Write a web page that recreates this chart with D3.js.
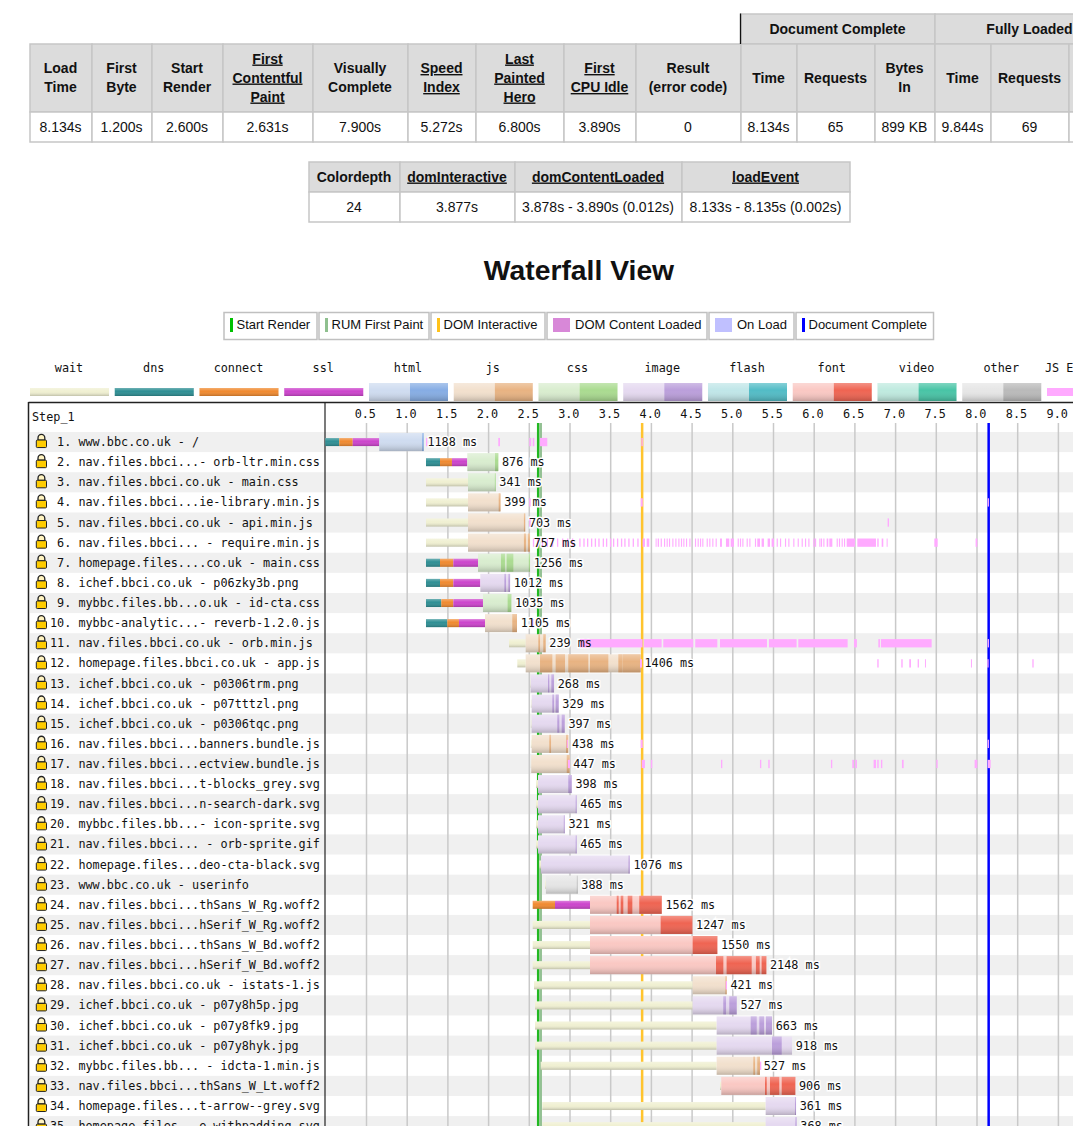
<!DOCTYPE html>
<html>
<head>
<meta charset="utf-8">
<script src="https://cdn.jsdelivr.net/npm/d3@7"></script>
<style>
body { margin: 0; background: #fff; overflow: hidden; }
svg { display: block; }
text { font-family: "Liberation Sans", Arial, sans-serif; fill: #111; }
.mono, .mono text { font-family: "DejaVu Sans Mono", monospace; font-size: 11.8px; white-space: pre; }
</style>
</head>
<body>
<script>
// ---- summary tables ----
var mainHeaders = [["Load","Time"],["First","Byte"],["Start","Render"],["First","Contentful","Paint"],["Visually","Complete"],["Speed","Index"],["Last","Painted","Hero"],["First","CPU Idle"],["Result","(error code)"],["Time"],["Requests"],["Bytes","In"],["Time"],["Requests"],[]];
var mainLinked = [3,5,6,7];
var mainValues = ["8.134s","1.200s","2.600s","2.631s","7.900s","5.272s","6.800s","3.890s","0","8.134s","65","899 KB","9.844s","69",""];
var mainEdges = [30,92,152,223,313,408,476,564,636,741,797,875,935,991,1069,1125];
var groupHeaders = ["Document Complete","Fully Loaded"];
var groupEdges = [741,935,1125];
var domHeaders = ["Colordepth","domInteractive","domContentLoaded","loadEvent"];
var domLinked = [1,2,3];
var domValues = ["24","3.877s","3.878s - 3.890s (0.012s)","8.133s - 8.135s (0.002s)"];
var domEdges = [309,400,515,682,850];

// ---- waterfall: one entry per request, times in seconds ----
var urls = ["www.bbc.co.uk - /","nav.files.bbci...- orb-ltr.min.css","nav.files.bbci.co.uk - main.css","nav.files.bbci...ie-library.min.js","nav.files.bbci.co.uk - api.min.js","nav.files.bbci... - require.min.js","homepage.files....co.uk - main.css","ichef.bbci.co.uk - p06zky3b.png","mybbc.files.bb...o.uk - id-cta.css","mybbc-analytic...- reverb-1.2.0.js","nav.files.bbci.co.uk - orb.min.js","homepage.files.bbci.co.uk - app.js","ichef.bbci.co.uk - p0306trm.png","ichef.bbci.co.uk - p07tttzl.png","ichef.bbci.co.uk - p0306tqc.png","nav.files.bbci...banners.bundle.js","nav.files.bbci...ectview.bundle.js","nav.files.bbci...t-blocks_grey.svg","nav.files.bbci...n-search-dark.svg","mybbc.files.bb...- icon-sprite.svg","nav.files.bbci... - orb-sprite.gif","homepage.files...deo-cta-black.svg","www.bbc.co.uk - userinfo","nav.files.bbci...thSans_W_Rg.woff2","nav.files.bbci...hSerif_W_Rg.woff2","nav.files.bbci...thSans_W_Bd.woff2","nav.files.bbci...hSerif_W_Bd.woff2","nav.files.bbci.co.uk - istats-1.js","ichef.bbci.co.uk - p07y8h5p.jpg","ichef.bbci.co.uk - p07y8fk9.jpg","ichef.bbci.co.uk - p07y8hyk.jpg","mybbc.files.bb... - idcta-1.min.js","nav.files.bbci...thSans_W_Lt.woff2","homepage.files...t-arrow--grey.svg","homepage.files...e-withpadding.svg"];
var types = ["html","css","css","js","js","js","css","image","css","js","js","js","image","image","image","js","js","image","image","image","image","image","other","font","font","font","font","js","image","image","image","js","font","image","image"];
var durations = [1188,876,341,399,703,757,1256,1012,1035,1105,239,1406,268,329,397,438,447,398,465,321,465,1076,388,1562,1247,1550,2148,421,527,663,918,527,906,361,368];
var phaseStart = [0,1.237,1.237,1.237,1.237,1.237,1.237,1.237,1.237,1.237,2.257,2.359,2.515,2.525,2.525,2.525,2.525,2.588,2.588,2.588,2.588,2.63,2.7,2.548,2.548,2.548,2.548,2.564,2.576,2.576,2.576,2.646,4.849,2.666,2.666];
var reqStart = [0.663,1.745,1.753,1.753,1.753,1.753,1.876,1.905,1.937,1.962,2.462,2.462,2.523,2.535,2.535,2.535,2.53,2.613,2.613,2.613,2.613,2.65,2.71,3.252,3.252,3.252,3.252,4.513,4.513,4.808,4.808,4.808,4.865,5.41,5.41];
var reqEnd = [1.209,2.125,2.093,2.152,2.456,2.515,2.515,2.27,2.285,2.355,2.707,3.875,2.81,2.867,2.941,2.985,3.002,3.027,3.088,2.941,3.088,3.74,3.1,4.133,4.509,4.816,5.418,4.931,5.054,5.488,5.734,5.34,5.774,5.783,5.79];
// connection phases: row -> [dns end, connect end, ssl end]; dns end equal to the start means no dns
var connectPhases = {0:[0.172,0.337,0.663],1:[1.409,1.556,1.745],6:[1.409,1.573,1.876],7:[1.409,1.573,1.905],8:[1.425,1.573,1.937],9:[1.499,1.642,1.962],23:[2.548,2.822,3.252]};
var downloadChunks = {
  0:[[1.19,1.209]],1:[[2.085,2.125]],2:[[2.083,2.093]],3:[[2.13,2.152]],4:[[2.44,2.456]],5:[[2.44,2.465],[2.49,2.515]],
  6:[[2.158,2.207],[2.228,2.31],[2.5,2.515]],7:[[2.2,2.22],[2.249,2.27]],8:[[2.24,2.285]],9:[[2.297,2.355]],
  10:[[2.617,2.638],[2.678,2.707]],11:[[2.638,2.789],[2.83,2.945],[2.985,3.231],[3.252,3.477],[3.6,3.654],[3.657,3.875]],
  12:[[2.736,2.752],[2.777,2.81]],13:[[2.789,2.81],[2.83,2.867]],14:[[2.85,2.875],[2.904,2.941]],15:[[2.752,2.773],[2.957,2.985]],16:[[2.966,3.002]],
  17:[[2.985,3.027]],18:[[3.076,3.088]],19:[[2.93,2.941]],20:[[3.076,3.088]],21:[[3.725,3.74]],22:[[3.09,3.1]],
  23:[[3.58,3.604],[3.629,3.661],[3.715,3.772],[3.857,4.133]],24:[[4.12,4.509]],25:[[4.513,4.816]],26:[[4.8,4.89],[4.93,5.238],[5.29,5.336],[5.36,5.418]],
  27:[[4.915,4.931]],28:[[4.889,4.923],[4.963,5.054]],29:[[5.226,5.3],[5.332,5.39],[5.414,5.488]],30:[[5.488,5.607]],31:[[5.258,5.279],[5.307,5.34]],
  32:[[5.402,5.423],[5.463,5.577],[5.607,5.774]],33:[[5.77,5.783]],34:[[5.775,5.79]]
};
var jsExecution = {
  0:[[1.237,1.253],[2.125,2.146],[2.506,2.53],[2.548,2.568],[2.638,2.727],[3.883,3.9]],
  3:[[2.506,2.523],[3.875,3.9],[8.137,8.153]],
  4:[[2.506,2.523],[6.908,6.925]],
  5:[[2.55,2.566],[2.6,2.616],[2.66,2.676],[2.72,2.736],[2.785,2.8],[2.846,2.862],[2.908,2.924],[2.97,2.986],[3.03,3.046],[3.12,3.136],[3.17,3.186],[3.215,3.231],[3.264,3.28],[3.31,3.326],[3.354,3.37],[3.408,3.424],[3.448,3.464],[3.497,3.513],[3.534,3.55],[3.583,3.599],[3.632,3.648],[3.673,3.689],[3.722,3.738],[3.776,3.792],[3.833,3.849],[3.898,3.927],[3.948,3.98],[4.058,4.07],[4.083,4.1],[4.12,4.135],[4.161,4.175],[4.193,4.207],[4.222,4.236],[4.263,4.277],[4.3,4.314],[4.337,4.351],[4.369,4.383],[4.398,4.412],[4.431,4.445],[4.472,4.486],[4.541,4.555],[4.574,4.588],[4.603,4.617],[4.631,4.645],[4.685,4.699],[4.717,4.731],[4.754,4.768],[4.795,4.809],[4.849,4.873],[4.922,4.963],[4.98,5.02],[5.066,5.08],[5.094,5.108],[5.123,5.137],[5.176,5.19],[5.209,5.223],[5.278,5.292],[5.307,5.34],[5.36,5.389],[5.434,5.463],[5.483,5.512],[5.545,5.559],[5.586,5.6],[5.647,5.661],[5.688,5.702],[5.749,5.763],[5.803,5.817],[5.852,5.866],[5.893,5.907],[5.934,5.948],[5.995,6.009],[6.016,6.03],[6.069,6.083],[6.089,6.103],[6.118,6.132],[6.159,6.179],[6.192,6.229],[6.282,6.296],[6.31,6.324],[6.343,6.357],[6.372,6.386],[6.405,6.507],[6.536,6.765],[6.781,6.798],[6.835,6.855],[6.896,6.908],[7.482,7.523],[7.989,8.01]],
  9:[[2.54,2.556]],
  10:[[3.129,3.898],[3.915,4.132],[4.152,4.521],[4.545,4.816],[4.849,5.426],[5.45,5.79],[5.811,6.417],[6.495,6.531],[6.794,6.814],[6.826,7.449],[8.137,8.153]],
  11:[[3.866,3.89],[6.781,6.798],[7.076,7.093],[7.174,7.195],[7.277,7.293],[7.367,7.379],[7.932,7.944],[8.133,8.149],[8.686,8.702]],
  15:[[2.966,2.98],[3.874,3.9],[8.137,8.153]],
  16:[[2.98,3.006],[3.886,3.927],[4.0,4.017],[4.861,4.877],[5.34,5.356],[5.442,5.459],[6.212,6.228],[6.474,6.495],[6.511,6.531],[6.736,6.765],[6.781,6.798],[6.826,6.843],[7.084,7.105],[7.506,7.523],[7.977,8.01],[8.137,8.174]],
  27:[[4.919,4.935]],
  31:[[5.34,5.356]]
};
var markers = [{t:2.6,c:"#22b822"},{t:2.631,c:"#93c193"},{t:3.877,c:"#ffc42e"},{t:8.134,c:"#0000ff"}];
var axisTicks = [0.5,1,1.5,2,2.5,3,3.5,4,4.5,5,5.5,6,6.5,7,7.5,8,8.5,9,9.5];

// ---- colour keys ----
var phaseKeys = ["wait","dns","connect","ssl"];
var phaseColors = {wait:"#f0f0d2",dns:"#2f8f94",connect:"#f08a30",ssl:"#cc44cc"};
var typeKeys = ["html","js","css","image","flash","font","video","other"];
var lightColors = {html:"#cfdcf0",js:"#f2e0cd",css:"#d9edcf",image:"#e5d9f0",flash:"#c0e6e8",font:"#fac8c3",video:"#bfeadf",other:"#e6e6e6"};
var darkColors = {html:"#86ade4",js:"#e8b382",css:"#aadb90",image:"#bb9fdb",flash:"#52bcc6",font:"#ef6452",video:"#48c4a6",other:"#bababa"};
var jsColor = "#ffaaff";
var legendItems = [
  {label:"Start Render",x0:224,x1:317,kind:"bar",c:"#00c000"},
  {label:"RUM First Paint",x0:319,x1:429,kind:"bar",c:"#8fc08f"},
  {label:"DOM Interactive",x0:431,x1:545,kind:"bar",c:"#ffc21a"},
  {label:"DOM Content Loaded",x0:547,x1:707,kind:"box",c:"#d888d8"},
  {label:"On Load",x0:709,x1:794,kind:"box",c:"#c0c0ff"},
  {label:"Document Complete",x0:796,x1:933.5,kind:"bar",c:"#0000ff"}
];

var svg = d3.select("body").append("svg").attr("width",1073).attr("height",1126);
var defs = svg.append("defs");
var shade = defs.append("linearGradient").attr("id","shade").attr("x1",0).attr("y1",0).attr("x2",0).attr("y2",1);
shade.append("stop").attr("offset",0).attr("stop-color","#fff").attr("stop-opacity",0.3);
shade.append("stop").attr("offset",0.4).attr("stop-color","#fff").attr("stop-opacity",0);
shade.append("stop").attr("offset",1).attr("stop-color","#000").attr("stop-opacity",0.2);

function drawCell(x0,x1,y0,y1,fill){
  svg.append("rect").attr("x",x0).attr("y",y0).attr("width",x1-x0).attr("height",y1-y0)
    .attr("fill",fill).attr("stroke","#c6c6c6").attr("stroke-width",1.5);
}
function drawLines(lines,cx,cy,bold,linked){
  var lh = 19;
  lines.forEach(function(s,i){
    svg.append("text").attr("x",cx-0.5).attr("y",cy+(i-(lines.length-1)/2)*lh+4.5)
      .attr("text-anchor","middle").attr("font-size",14).attr("font-weight",bold?"bold":"normal")
      .attr("text-decoration",linked?"underline":null).text(s);
  });
}

// top table
groupHeaders.forEach(function(h,i){
  drawCell(groupEdges[i],groupEdges[i+1],14,44,"#dcdcdc");
  drawLines([h],(groupEdges[i]+groupEdges[i+1])/2,29,true,false);
});
mainHeaders.forEach(function(h,i){
  var x0 = mainEdges[i], x1 = mainEdges[i+1];
  drawCell(x0,x1,44,112,"#dcdcdc");
  drawLines(h,(x0+x1)/2,78,true,mainLinked.indexOf(i)>=0);
  drawCell(x0,x1,112,142,"#fff");
  drawLines([mainValues[i]],(x0+x1)/2,127,false,false);
});
svg.append("line").attr("x1",740.5).attr("x2",740.5).attr("y1",13.5).attr("y2",44).attr("stroke","#111").attr("stroke-width",1.3);
// second table
domHeaders.forEach(function(h,i){
  var x0 = domEdges[i], x1 = domEdges[i+1];
  drawCell(x0,x1,162,192,"#dcdcdc");
  drawLines([h],(x0+x1)/2,177,true,domLinked.indexOf(i)>=0);
  drawCell(x0,x1,192,222,"#fff");
  drawLines([domValues[i]],(x0+x1)/2,207,false,false);
});

svg.append("text").attr("x",579).attr("y",280).attr("text-anchor","middle")
  .attr("font-size",28.3).attr("font-weight","bold").text("Waterfall View");

// marker legend
legendItems.forEach(function(d){
  svg.append("rect").attr("x",d.x0).attr("y",312.5).attr("width",d.x1-d.x0).attr("height",27)
    .attr("fill","#fff").attr("stroke","#c0c0c0").attr("stroke-width",1.5);
  var sw = d.kind=="bar" ? 3 : 17;
  svg.append("rect").attr("x",d.x0+6).attr("y",318).attr("width",sw).attr("height",14).attr("fill",d.c);
  svg.append("text").attr("x",d.x0+6+sw+(d.kind=="bar"?3.5:5)).attr("y",328.7).attr("font-size",13).text(d.label);
});

// request type legend
var legendX = d3.scaleLinear().domain([0,1]).range([30,114.75]);
var legend = svg.append("g").attr("class","mono");
phaseKeys.concat(typeKeys).concat(["JS Execution"]).forEach(function(k,i){
  var x0 = legendX(i);
  legend.append("text").attr("x",k=="JS Execution"?1045:x0+39).attr("y",372)
    .attr("text-anchor",k=="JS Execution"?"start":"middle").text(k);
  if (phaseColors[k]) {
    legend.append("rect").attr("x",x0).attr("y",388).attr("width",79).attr("height",8).attr("fill",phaseColors[k]);
    legend.append("rect").attr("x",x0).attr("y",388).attr("width",79).attr("height",8).attr("fill","url(#shade)");
  } else if (k=="JS Execution") {
    legend.append("rect").attr("x",1047).attr("y",388).attr("width",40).attr("height",8).attr("fill",jsColor);
  } else {
    legend.append("rect").attr("x",x0).attr("y",383).attr("width",41).attr("height",18).attr("fill",lightColors[k]);
    legend.append("rect").attr("x",x0+41).attr("y",383).attr("width",38).attr("height",18).attr("fill",darkColors[k]);
    legend.append("rect").attr("x",x0).attr("y",383).attr("width",79).attr("height",18).attr("fill","url(#shade)");
  }
});

// waterfall scales
var x = d3.scaleLinear().domain([0,9]).range([325.3,1057.9]);
var y = d3.scaleBand().domain(d3.range(urls.length)).range([432,432+urls.length*20.12]);
var rows = d3.range(urls.length);

var chart = svg.append("g").attr("class","mono");
chart.selectAll("rect.band").data(rows.filter(function(i){return i%2==0;})).join("rect").attr("class","band")
  .attr("x",30).attr("width",1043).attr("y",function(i){return y(i);}).attr("height",y.bandwidth()).attr("fill","#f0f0f0");

// grid and time labels
var axis = d3.axisTop(x).tickValues(axisTicks).tickFormat(d3.format(".1f")).tickSizeInner(-710).tickSizeOuter(0).tickPadding(5.5);
var axisG = chart.append("g").attr("transform","translate(0,423)").call(axis);
axisG.select(".domain").remove();
axisG.selectAll("line").attr("stroke","#c9c9c9").attr("stroke-width",1.5);
axisG.selectAll("text").attr("fill","#111").attr("dx",-1.2);
axisG.attr("font-family",null).attr("font-size",null);

// labels column
chart.append("rect").attr("x",30).attr("y",403).attr("width",295).attr("height",29).attr("fill","#fff");
chart.append("text").attr("x",32).attr("y",421).text("Step_1");
var labelRows = chart.selectAll("g.label").data(rows).join("g").attr("class","label")
  .attr("transform",function(i){return "translate(0,"+(y(i)+y.bandwidth()/2)+")";});
labelRows.append("path").attr("d","M38,-2 v-2 a3.4,3.6 0 0 1 6.8,0 v2 z").attr("fill","#fff3c0").attr("stroke","#222").attr("stroke-width",1.3);
labelRows.append("rect").attr("x",36.3).attr("y",-2).attr("width",10.2).attr("height",7.5).attr("rx",1)
  .attr("fill","#ffcc00").attr("stroke","#222").attr("stroke-width",1);
labelRows.append("text").attr("x",50).attr("y",4)
  .text(function(i){return String(i+1).padStart(2," ")+". "+urls[i];});

// frame
chart.append("line").attr("x1",28.5).attr("x2",1073).attr("y1",402.5).attr("y2",402.5).attr("stroke","#222").attr("stroke-width",1.5);
chart.append("line").attr("x1",28.5).attr("x2",28.5).attr("y1",402).attr("y2",1126).attr("stroke","#222").attr("stroke-width",1.5);
chart.append("line").attr("x1",325).attr("x2",325).attr("y1",402).attr("y2",1126).attr("stroke","#222").attr("stroke-width",1.2);

// page event markers
chart.selectAll("rect.marker").data(markers).join("rect").attr("class","marker")
  .attr("x",function(d){return x(d.t);}).attr("y",423).attr("width",2.5).attr("height",710).attr("fill",function(d){return d.c;});

// request bars
function bar(g,t0,t1,h,fill,row){
  var cy = y(row)+y.bandwidth()/2;
  g.append("rect").attr("x",x(t0)).attr("width",Math.max(x(t1)-x(t0),0)).attr("y",cy-h/2).attr("height",h).attr("fill",fill);
}
var bars = chart.append("g");
rows.forEach(function(i){
  var p = connectPhases[i];
  if (p) {
    if (p[0]>phaseStart[i]) bar(bars,phaseStart[i],p[0],8,phaseColors.dns,i);
    bar(bars,p[0],p[1],8,phaseColors.connect,i);
    bar(bars,p[1],p[2],8,phaseColors.ssl,i);
  } else {
    bar(bars,phaseStart[i],reqStart[i],8,phaseColors.wait,i);
  }
  bar(bars,phaseStart[i],reqStart[i],8,"url(#shade)",i);
  var t = types[i];
  bar(bars,reqStart[i],reqEnd[i],18,lightColors[t],i);
  (downloadChunks[i]||[]).forEach(function(c){ bar(bars,c[0],c[1],18,darkColors[t],i); });
  bar(bars,reqStart[i],reqEnd[i],18,"url(#shade)",i);
});

// duration labels: halo under the js ticks, glyphs above them
function durationText(g){
  return g.selectAll("text").data(rows).join("text")
    .attr("x",function(i){return x(reqEnd[i])+3.7;})
    .attr("y",function(i){return y(i)+y.bandwidth()/2+4;})
    .text(function(i){return durations[i]+" ms";});
}
durationText(chart.append("g")).attr("stroke","#fff").attr("stroke-width",3).style("fill","none");

var jsG = chart.append("g");
Object.keys(jsExecution).forEach(function(k){
  jsExecution[k].forEach(function(c){ bar(jsG,c[0],c[1],8.3,jsColor,+k); });
});
durationText(chart.append("g"));
</script>
</body>
</html>
